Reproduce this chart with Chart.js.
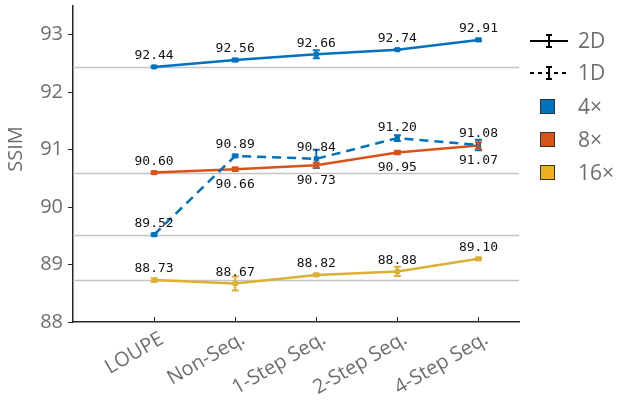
<!DOCTYPE html>
<html>
<head>
<meta charset="utf-8">
<script src="https://cdn.jsdelivr.net/npm/chart.js@4/dist/chart.umd.min.js"></script>
<style>
  html, body { margin: 0; padding: 0; background: #fff; }
  #wrap { width: 619px; height: 407px; }
</style>
</head>
<body>
<div id="wrap"><canvas id="ssimChart"></canvas></div>
<script>
// categories and values
var categories = ["LOUPE", "Non-Seq.", "1-Step Seq.", "2-Step Seq.", "4-Step Seq."];
var yTicks = [88, 89, 90, 91, 92, 93];

var ssim2d4x  = [92.44, 92.56, 92.66, 92.74, 92.91];
var err2d4x   = [0.01, 0.02, 0.07, 0.01, 0.02];
var ssim1d4x  = [89.52, 90.89, 90.84, 91.20, 91.08];
var err1d4x   = [0.02, 0.02, 0.16, 0.05, 0.09];
var ssim2d8x  = [90.60, 90.66, 90.73, 90.95, 91.07];
var err2d8x   = [0.02, 0.03, 0.04, 0.03, 0.06];
var ssim2d16x = [88.73, 88.67, 88.82, 88.88, 89.10];
var err2d16x  = [0.03, 0.12, 0.02, 0.08, 0.02];

var blue = "#0072BD", orange = "#D95319", yellow = "#DDB035";
var gray = "#6e6e6e", axisCol = "#262626";

function pts(vals) {
  return vals.map(function (v, i) { return { x: i, y: v }; });
}

function series(label, vals, errs, color, dashed, labelPos) {
  return {
    label: label,
    data: pts(vals),
    errors: errs,
    labelPos: labelPos,
    borderColor: color,
    backgroundColor: color,
    borderWidth: 2.5,
    borderDash: dashed ? [9, 6] : [],
    pointStyle: "rect",
    pointRadius: 3.6,
    pointBorderWidth: 0,
    tension: 0
  };
}

// horizontal reference lines at the LOUPE values, error bars, value labels, legend
var decor = {
  id: "decor",
  beforeDatasetsDraw: function (chart) {
    var ctx = chart.ctx, a = chart.chartArea, ys = chart.scales.y;
    var refs = [ssim2d4x[0], ssim2d8x[0], ssim1d4x[0], ssim2d16x[0]];
    ctx.save();
    ctx.strokeStyle = "#c4c4c4";
    ctx.lineWidth = 1.5;
    refs.forEach(function (v) {
      var y = Math.round(ys.getPixelForValue(v)) + 0.5;
      ctx.beginPath();
      ctx.moveTo(a.left, y);
      ctx.lineTo(a.right, y);
      ctx.stroke();
    });
    ctx.restore();
  },
  afterDatasetsDraw: function (chart) {
    var ctx = chart.ctx, a = chart.chartArea, ys = chart.scales.y, xs = chart.scales.x;
    ctx.save();
    // x tick marks pointing inwards
    ctx.strokeStyle = axisCol;
    ctx.lineWidth = 1;
    categories.forEach(function (c, i) {
      var x = Math.round(xs.getPixelForValue(i)) + 0.5;
      ctx.beginPath();
      ctx.moveTo(x, a.bottom);
      ctx.lineTo(x, a.bottom - 5);
      ctx.stroke();
    });
    // error bars
    chart.data.datasets.forEach(function (ds, di) {
      var meta = chart.getDatasetMeta(di);
      ctx.strokeStyle = ds.borderColor;
      ctx.lineWidth = 2;
      meta.data.forEach(function (p, i) {
        var v = ds.data[i].y, e = ds.errors[i];
        var y1 = ys.getPixelForValue(v - e), y2 = ys.getPixelForValue(v + e);
        ctx.beginPath();
        ctx.moveTo(p.x, y1); ctx.lineTo(p.x, y2);
        ctx.moveTo(p.x - 3.5, y1); ctx.lineTo(p.x + 3.5, y1);
        ctx.moveTo(p.x - 3.5, y2); ctx.lineTo(p.x + 3.5, y2);
        ctx.stroke();
      });
    });
    // value labels
    ctx.font = "13px 'DejaVu Sans Mono'";
    ctx.fillStyle = "#111";
    ctx.textAlign = "center";
    ctx.textBaseline = "middle";
    chart.data.datasets.forEach(function (ds, di) {
      var meta = chart.getDatasetMeta(di);
      meta.data.forEach(function (p, i) {
        var below = ds.labelPos[i] === "b";
        ctx.fillText(ds.data[i].y.toFixed(2), p.x, p.y + (below ? 15 : -11));
      });
    });
    // y title
    ctx.save();
    ctx.translate(16, 149);
    ctx.rotate(-Math.PI / 2);
    ctx.font = "20px 'Open Sans'";
    ctx.fillStyle = gray;
    ctx.fillText("SSIM", 0, 0);
    ctx.restore();
    // legend
    var lx = 530, tx = 578;
    ctx.font = "21px 'Open Sans'";
    ctx.textAlign = "left";
    ctx.fillStyle = gray;
    [[41, false], [73, true]].forEach(function (r, k) {
      var y = r[0];
      ctx.strokeStyle = "#000";
      ctx.lineWidth = 2;
      ctx.setLineDash(r[1] ? [4, 4] : []);
      ctx.beginPath();
      ctx.moveTo(lx, y); ctx.lineTo(lx + 38, y);
      ctx.stroke();
      ctx.setLineDash([]);
      ctx.beginPath();
      ctx.moveTo(lx + 19, y - 6); ctx.lineTo(lx + 19, y + 6);
      ctx.moveTo(lx + 16, y - 6); ctx.lineTo(lx + 22, y - 6);
      ctx.moveTo(lx + 16, y + 6); ctx.lineTo(lx + 22, y + 6);
      ctx.stroke();
      ctx.fillText(k === 0 ? "2D" : "1D", tx, y + 1);
    });
    [[107, blue, "4\u00d7"], [140, orange, "8\u00d7"], [173, "#EDB120", "16\u00d7"]].forEach(function (r) {
      ctx.fillStyle = r[1];
      ctx.fillRect(540, r[0] - 8, 15, 15);
      ctx.strokeStyle = "#333";
      ctx.lineWidth = 1;
      ctx.strokeRect(540.5, r[0] - 7.5, 14, 14);
      ctx.fillStyle = gray;
      ctx.fillText(r[2], tx, r[0] + 1);
    });
    ctx.restore();
  }
};

new Chart(document.getElementById("ssimChart").getContext("2d"), {
  type: "line",
  data: {
    datasets: [
      series("2D 4x", ssim2d4x, err2d4x, blue, false, ["a", "a", "a", "a", "a"]),
      series("1D 4x", ssim1d4x, err1d4x, blue, true, ["a", "a", "a", "a", "a"]),
      series("2D 8x", ssim2d8x, err2d8x, orange, false, ["a", "b", "b", "b", "b"]),
      series("2D 16x", ssim2d16x, err2d16x, yellow, false, ["a", "a", "a", "a", "a"])
    ]
  },
  options: {
    responsive: true,
    maintainAspectRatio: false,
    animation: false,
    layout: { padding: { top: 6, right: 100, left: 0, bottom: 0 } },
    plugins: { legend: { display: false }, tooltip: { enabled: false } },
    scales: {
      x: {
        type: "linear",
        min: -1,
        max: 4.5,
        afterBuildTicks: function (scale) {
          scale.ticks = categories.map(function (c, i) { return { value: i }; });
        },
        afterFit: function (scale) {
          scale.height = 85;
          scale.paddingLeft = 0;
          scale.paddingRight = 0;
        },
        grid: { display: true, drawOnChartArea: false, drawTicks: false },
        border: { display: true, color: axisCol, width: 1.5 },
        ticks: {
          minRotation: 30,
          maxRotation: 30,
          autoSkip: false,
          padding: 5,
          labelOffset: 8,
          color: gray,
          font: { family: "'Open Sans'", size: 20 },
          callback: function (v) { return categories[v]; }
        }
      },
      y: {
        min: 88,
        max: 93.5,
        afterBuildTicks: function (scale) {
          scale.ticks = yTicks.map(function (v) { return { value: v }; });
        },
        afterFit: function (scale) {
          scale.width = 73;
          scale.paddingTop = 0;
          scale.paddingBottom = 0;
        },
        grid: { display: true, drawOnChartArea: false, tickLength: 5, color: axisCol },
        border: { display: true, color: axisCol, width: 1.5 },
        ticks: {
          padding: 5,
          color: gray,
          font: { family: "'Open Sans'", size: 20 }
        }
      }
    }
  },
  plugins: [decor]
});
</script>
</body>
</html>
